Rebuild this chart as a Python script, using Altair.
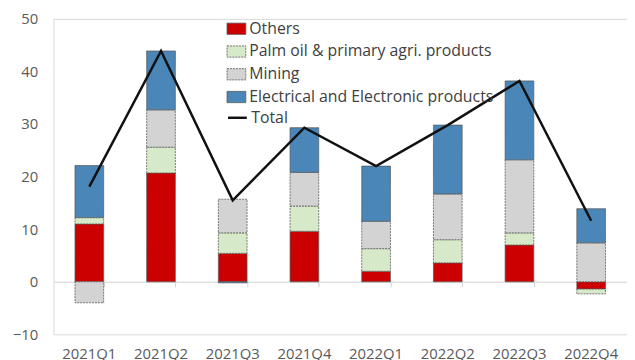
import altair as alt
import pandas as pd

quarters = ["2021Q1", "2021Q2", "2021Q3", "2021Q4", "2022Q1", "2022Q2", "2022Q3", "2022Q4"]
series = ["Others", "Palm oil & primary agri. products", "Mining", "Electrical and Electronic products"]
others = [11.0, 20.7, 5.4, 9.6, 2.0, 3.6, 7.0, -1.4]
palm = [1.2, 4.9, 3.9, 4.8, 4.3, 4.4, 2.3, -0.9]
mining = [-4.0, 7.1, 6.4, 6.4, 5.2, 8.7, 13.9, 7.4]
elec = [9.9, 11.2, -0.2, 8.5, 10.5, 13.1, 15.0, 6.5]
total = [18.1, 43.9, 15.5, 29.3, 22.0, 29.8, 38.2, 11.6]
y_ticks = [-10, 0, 10, 20, 30, 40, 50]

colors = ["#cc0000", "#d6e9c8", "#d3d3d3", "#4a86b7"]
dashes = [[1, 0], [2, 1], [2, 1], [1, 0]]

rows = []
for i, q in enumerate(quarters):
    for k, vals in enumerate([others, palm, mining, elec]):
        rows.append({"quarter": q, "series": series[k], "value": vals[i], "ord": k})
bars_df = pd.DataFrame(rows)
total_df = pd.DataFrame({"quarter": quarters, "total": total, "series": ["Total"] * len(quarters)})

FONT = "Open Sans"
xscale = alt.Scale(domain=quarters, paddingInner=0.6, paddingOuter=0.3)
yscale = alt.Scale(domain=[-10, 50], nice=False)
H = 319

bars = alt.Chart(bars_df).mark_bar(stroke="#5a5a5a", strokeWidth=0.8).encode(
    x=alt.X("quarter:N", scale=xscale, sort=quarters,
            axis=alt.Axis(title=None, orient="bottom", labelAngle=0, ticks=False, domain=False,
                          labelFont=FONT, labelFontSize=15, labelColor="#595959", labelPadding=12)),
    y=alt.Y("value:Q", stack="zero", scale=yscale,
            axis=alt.Axis(title=None, values=y_ticks, grid=False, ticks=False, domain=False,
                          labelFont=FONT, labelFontSize=15, labelColor="#595959", labelPadding=16)),
    color=alt.Color("series:N", scale=alt.Scale(domain=series, range=colors),
                    legend=alt.Legend(title=None, orient="none", legendX=175, legendY=0,
                                      symbolType="M-1,-0.6H1V0.6H-1Z", symbolSize=361,
                                      symbolStrokeColor="#555555", symbolStrokeWidth=0.8,
                                      labelFont=FONT, labelFontSize=16, labelColor="#404040",
                                      labelLimit=400, rowPadding=5, labelOffset=3, symbolOpacity=1)),
    order=alt.Order("ord:Q"),
    strokeDash=alt.StrokeDash("series:N", scale=alt.Scale(domain=series, range=dashes), legend=None),
)

line = alt.Chart(total_df).mark_line(strokeWidth=2.5).encode(
    x=alt.X("quarter:N", scale=xscale, sort=quarters,
            axis=alt.Axis(title=None, orient="bottom", labels=False, ticks=True, tickBand="extent",
                          tickSize=5, tickColor="#d0d0d0", domain=True, domainColor="#d0d0d0",
                          offset=-H / 6.0)),
    y=alt.Y("total:Q", scale=yscale),
    stroke=alt.Stroke("series:N", scale=alt.Scale(domain=["Total"], range=["#111111"]),
                      legend=alt.Legend(title=None, orient="none", legendX=175, legendY=89,
                                        symbolType="stroke", symbolSize=361, symbolStrokeWidth=2.5,
                                        labelFont=FONT, labelFontSize=16, labelColor="#404040",
                                        labelLimit=400, labelOffset=3)),
)

chart = alt.layer(bars, line).resolve_axis(x="independent").properties(
    width=580, height=H,
    autosize=alt.AutoSizeParams(type="none"),
    padding={"left": 46, "top": 9, "right": 0, "bottom": 30},
).configure_view(stroke="#d9d9d9", strokeWidth=1)

chart.save("out.html", embed_options={"renderer": "svg", "actions": False})
